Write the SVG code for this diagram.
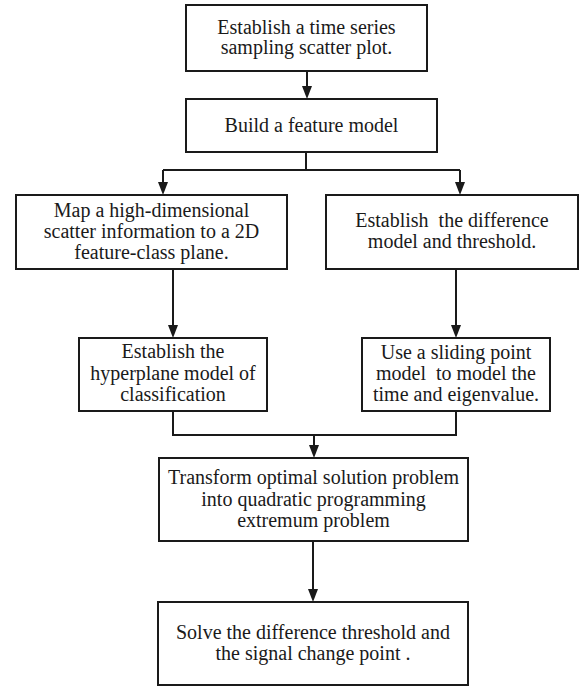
<svg xmlns="http://www.w3.org/2000/svg" width="581" height="686" viewBox="0 0 581 686">
<defs>
<style>
.box{fill:#fff;stroke:#1a1a1a;stroke-width:2}
.t{font-family:"Liberation Serif","Times New Roman",serif;font-size:20px;fill:#1a1a1a;text-anchor:middle;white-space:pre}
.c{fill:none;stroke:#1a1a1a;stroke-width:2}
</style>
<marker id="ah" viewBox="0 0 13 10" refX="7" refY="5" markerWidth="13" markerHeight="10" markerUnits="userSpaceOnUse" orient="auto">
<path d="M0,0 L13,5 L0,10 z" fill="#1a1a1a"/>
</marker>
</defs>
<rect width="581" height="686" fill="#fff"/>
<g id="connectors">
<path class="c" d="M307,71 V93" marker-end="url(#ah)"/>
<path class="c" d="M306,152 V170 M163,170 H460"/>
<path class="c" d="M163,170 V189" marker-end="url(#ah)"/>
<path class="c" d="M460,170 V189" marker-end="url(#ah)"/>
<path class="c" d="M173,269 V332" marker-end="url(#ah)"/>
<path class="c" d="M456,269 V332" marker-end="url(#ah)"/>
<path class="c" d="M173,411 V435 H456 V411"/>
<path class="c" d="M314,435 V452" marker-end="url(#ah)"/>
<path class="c" d="M313,541 V596" marker-end="url(#ah)"/>
</g>
<g id="n1">
<rect class="box" x="186" y="5" width="241" height="66"/>
<text class="t" x="306.5" y="34">Establish a time series</text>
<text class="t" x="306.5" y="54">sampling scatter plot.</text>
</g>
<g id="n2">
<rect class="box" x="186" y="99" width="251" height="53"/>
<text class="t" x="311.5" y="132">Build a feature model</text>
</g>
<g id="n3">
<rect class="box" x="16" y="195" width="271" height="74"/>
<text class="t" x="151.5" y="217">Map a high-dimensional</text>
<text class="t" x="151.5" y="238">scatter information to a 2D</text>
<text class="t" x="151.5" y="259">feature-class plane.</text>
</g>
<g id="n4">
<rect class="box" x="326" y="195" width="252" height="74"/>
<text class="t" x="452" y="227">Establish  the difference</text>
<text class="t" x="452" y="248">model and threshold.</text>
</g>
<g id="n5">
<rect class="box" x="79" y="338" width="188" height="73"/>
<text class="t" x="173" y="358">Establish the</text>
<text class="t" x="173" y="380">hyperplane model of</text>
<text class="t" x="173" y="401">classification</text>
</g>
<g id="n6">
<rect class="box" x="362" y="338" width="188" height="73"/>
<text class="t" x="456" y="359">Use a sliding point</text>
<text class="t" x="456" y="380">model  to model the</text>
<text class="t" x="456" y="401">time and eigenvalue.</text>
</g>
<g id="n7">
<rect class="box" x="159" y="458" width="309" height="83"/>
<text class="t" x="313.5" y="484">Transform optimal solution problem</text>
<text class="t" x="313.5" y="506">into quadratic programming</text>
<text class="t" x="313.5" y="527">extremum problem</text>
</g>
<g id="n8">
<rect class="box" x="158" y="602" width="310" height="83"/>
<text class="t" x="313" y="639">Solve the difference threshold and</text>
<text class="t" x="313" y="660">the signal change point .</text>
</g>
</svg>
